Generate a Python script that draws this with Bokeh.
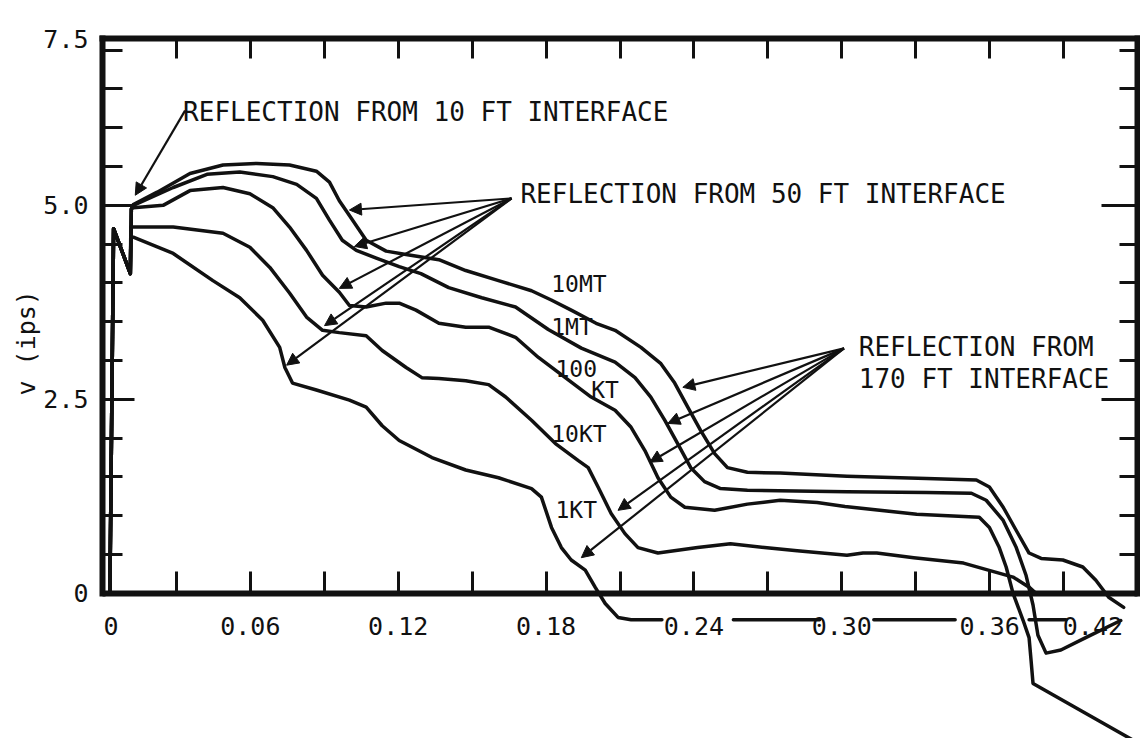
import math
from bokeh.plotting import figure
from bokeh.models import (Range1d, LinearAxis, FixedTicker, Label, Arrow,
                          NormalHead, ColumnDataSource, Title)
from bokeh.core.properties import value
from bokeh.embed import file_html
from bokeh.resources import INLINE

NaN = float("nan")
FONT = "DejaVu Sans Mono"

# ---------------- data: (time, v in ips) ----------------
MT10 = [(0.003, 0.0), (0.0045, 4.70), (0.0113, 4.12), (0.0117, 4.95), (0.0125, 5.01),
        (0.0222, 5.17), (0.0355, 5.41), (0.0489, 5.52), (0.0626, 5.54), (0.0759, 5.52),
        (0.0868, 5.44), (0.0921, 5.30), (0.0961, 5.06), (0.1002, 4.87), (0.1070, 4.55),
        (0.1151, 4.41), (0.1244, 4.36), (0.1365, 4.30), (0.1474, 4.16), (0.1607, 4.03),
        (0.1741, 3.90), (0.1821, 3.78), (0.1902, 3.65), (0.2003, 3.48), (0.2080, 3.39),
        (0.2185, 3.17), (0.2266, 2.96), (0.2322, 2.71), (0.2375, 2.40), (0.2427, 2.10),
        (0.2484, 1.80), (0.2536, 1.62), (0.2617, 1.56), (0.2750, 1.55), (0.3021, 1.51),
        (0.3344, 1.48), (0.3546, 1.46), (0.3599, 1.37), (0.3655, 1.11), (0.3708, 0.81),
        (0.3760, 0.52), (0.3809, 0.45), (0.3897, 0.43), (0.3978, 0.34), (0.4031, 0.17),
        (0.4083, -0.05), (0.4144, -0.18)]

MT1 = [(0.003, 0.0), (0.0045, 4.70), (0.0113, 4.12), (0.0117, 4.95), (0.0125, 5.00),
       (0.0287, 5.23), (0.0424, 5.40), (0.0557, 5.43), (0.0691, 5.37), (0.0788, 5.27),
       (0.0868, 5.09), (0.0921, 4.81), (0.0973, 4.55), (0.1030, 4.42), (0.1111, 4.32),
       (0.1204, 4.21), (0.1292, 4.12), (0.1405, 3.94), (0.1539, 3.81), (0.1676, 3.69),
       (0.1809, 3.40), (0.1943, 3.16), (0.2080, 2.98), (0.2161, 2.78), (0.2225, 2.53),
       (0.2282, 2.23), (0.2334, 1.93), (0.2387, 1.62), (0.2443, 1.44), (0.2508, 1.35),
       (0.2617, 1.33), (0.3021, 1.31), (0.3344, 1.30), (0.3526, 1.29), (0.3586, 1.20),
       (0.3655, 0.94), (0.3708, 0.59), (0.3748, 0.23), (0.3776, -0.15), (0.3796, -0.54),
       (0.3829, -0.77), (0.3889, -0.73), (0.3990, -0.57), (0.4132, -0.35)]

KT100 = [(0.003, 0.0), (0.0045, 4.70), (0.0113, 4.12), (0.0117, 4.95), (0.0125, 4.97),
         (0.0246, 5.00), (0.0355, 5.19), (0.0489, 5.23), (0.0598, 5.15), (0.0691, 4.97),
         (0.0759, 4.72), (0.0828, 4.42), (0.0893, 4.10), (0.0961, 3.88), (0.1002, 3.71),
         (0.1070, 3.69), (0.1151, 3.74), (0.1204, 3.74), (0.1272, 3.65), (0.1365, 3.48),
         (0.1474, 3.43), (0.1567, 3.43), (0.1676, 3.30), (0.1769, 3.04), (0.1878, 2.78),
         (0.1983, 2.53), (0.2080, 2.36), (0.2145, 2.14), (0.2201, 1.84), (0.2254, 1.49),
         (0.2306, 1.24), (0.2363, 1.11), (0.2484, 1.07), (0.2617, 1.15), (0.2750, 1.20),
         (0.2900, 1.17), (0.3013, 1.12), (0.3304, 1.02), (0.3558, 0.98), (0.3599, 0.85),
         (0.3639, 0.59), (0.3667, 0.34), (0.3695, 0.0), (0.3736, -0.35), (0.3760, -0.57),
         (0.3768, -0.86), (0.3776, -1.16), (0.4220, -1.96)]

KT10 = [(0.003, 0.0), (0.0045, 4.70), (0.0113, 4.12), (0.0115, 4.72), (0.0125, 4.72),
        (0.0287, 4.72), (0.0489, 4.64), (0.0598, 4.46), (0.0679, 4.20), (0.0759, 3.87),
        (0.0828, 3.56), (0.0893, 3.39), (0.0961, 3.36), (0.1070, 3.32), (0.1135, 3.13),
        (0.1232, 2.91), (0.1296, 2.78), (0.1365, 2.77), (0.1474, 2.74), (0.1567, 2.69),
        (0.1636, 2.53), (0.1741, 2.23), (0.1838, 1.93), (0.1931, 1.71), (0.1971, 1.62),
        (0.2011, 1.37), (0.2064, 1.03), (0.2120, 0.77), (0.2173, 0.59), (0.2254, 0.52),
        (0.2415, 0.59), (0.2548, 0.64), (0.2686, 0.59), (0.2819, 0.55), (0.3021, 0.49),
        (0.3086, 0.52), (0.3142, 0.52), (0.3292, 0.46), (0.3494, 0.39), (0.3627, 0.27),
        (0.3695, 0.21), (0.3760, 0.08), (0.3788, 0.0)]

KT1 = [(0.003, 0.0), (0.0045, 4.70), (0.0113, 4.12), (0.0115, 4.59), (0.0125, 4.59),
       (0.0287, 4.38), (0.0448, 4.03), (0.0557, 3.81), (0.0650, 3.52), (0.0719, 3.17),
       (0.0740, 2.91), (0.0771, 2.71), (0.0868, 2.62), (0.1002, 2.49), (0.1070, 2.40),
       (0.1135, 2.16), (0.1204, 1.97), (0.1337, 1.75), (0.1474, 1.59), (0.1607, 1.49),
       (0.1741, 1.35), (0.1781, 1.24), (0.1822, 0.85), (0.1862, 0.59), (0.1902, 0.43),
       (0.1959, 0.30), (0.1999, 0.08), (0.2040, -0.13), (0.2092, -0.31), (0.2145, -0.34),
       (0.2270, -0.34), (NaN, NaN), (0.2560, -0.34), (0.2910, -0.34), (NaN, NaN),
       (0.3130, -0.34), (0.3460, -0.34), (NaN, NaN), (0.3760, -0.34), (0.3910, -0.34)]

SERIES = [MT10, MT1, KT100, KT10, KT1]

# curve labels (left edge, vertical centre)
curve_label_text = ["10MT", "1MT", "100", "KT", "10KT", "1KT"]
curve_label_t = [0.1821, 0.1821, 0.1838, 0.1983, 0.1821, 0.1838]
curve_label_v = [3.99, 3.43, 2.90, 2.62, 2.06, 1.07]

# annotation texts
note_text = ["REFLECTION FROM 10 FT INTERFACE", "REFLECTION FROM 50 FT INTERFACE",
             "REFLECTION FROM", "170 FT INTERFACE"]
note_t = [0.0327, 0.1696, 0.3069, 0.3069]
note_v = [6.20, 5.14, 3.17, 2.76]

# arrows: (start) -> (tip on curve)
arrow_t0 = [0.0335, 0.166, 0.166, 0.166, 0.166, 0.166,
            0.3009, 0.3009, 0.3009, 0.3009, 0.3009]
arrow_v0 = [6.22, 5.09, 5.09, 5.09, 5.09, 5.09,
            3.157, 3.157, 3.157, 3.157, 3.157]
arrow_t1 = [0.0133, 0.1002, 0.1022, 0.0961, 0.0901, 0.0747,
            0.2355, 0.2294, 0.2221, 0.2092, 0.1943]
arrow_v1 = [5.13, 4.94, 4.47, 3.93, 3.45, 2.94,
            2.655, 2.19, 1.69, 1.07, 0.46]

# axes
x_ticks = [0.06, 0.12, 0.18, 0.24, 0.30, 0.36]
x_tick_labels = ["0.06", "0.12", "0.18", "0.24", "0.30", "0.36"]
x_minor = [0.03, 0.09, 0.15, 0.21, 0.27, 0.33, 0.39]
x_first_label, x_first_label_t = "0", 0.0035      # printed just right of the axis
x_last_label, x_last_label_t = "0.42", 0.4019     # printed left of the frame corner
X_END = 0.42
Y_TOP = 7.15          # top edge of the frame (printed "7.5" in the original)
Y_BOTTOM = -1.87
y_ticks = [0.0, 2.5, 5.0, Y_TOP]
y_tick_labels = ["0", "2.5", "5.0", "7.5"]
y_minor = [0.5, 1.0, 1.5, 2.0, 3.0, 3.5, 4.0, 4.5, 5.5, 6.0, 6.5, 7.0]
y_title = "v (ips)"

INK = "#111111"

# ---------------- figure ----------------
p = figure(width=1140, height=738,
           x_range=Range1d(0, X_END), y_range=Range1d(Y_BOTTOM, Y_TOP),
           x_axis_location=None, y_axis_location=None,
           toolbar_location=None, output_backend="svg",
           min_border_left=102, min_border_right=3, min_border_top=38,
           min_border_bottom=0,
           background_fill_color="white", border_fill_color="white",
           outline_line_color=None)
p.grid.visible = False


def style_axis(ax, line=True):
    ax.axis_line_width = 6
    ax.axis_line_color = INK if line else None
    ax.axis_line_cap = "square"
    ax.major_tick_line_width = 3
    ax.minor_tick_line_width = 3
    ax.major_tick_line_color = INK
    ax.minor_tick_line_color = INK
    ax.major_tick_out = 0
    ax.minor_tick_out = 0
    ax.major_label_text_font = FONT
    ax.major_label_text_font_size = "25px"
    ax.major_label_text_color = INK


# bottom axis drawn at v = 0 (curves continue below it)
xb = LinearAxis(fixed_location=0, bounds=(0, X_END),
                ticker=FixedTicker(ticks=x_ticks, minor_ticks=x_minor),
                major_label_overrides=dict(zip(x_ticks, x_tick_labels)))
style_axis(xb)
xb.major_tick_in = 22
xb.minor_tick_in = 22
xb.major_label_standoff = 24
p.add_layout(xb, "below")

# top frame with ticks
xt = LinearAxis(bounds=(0, X_END),
                ticker=FixedTicker(ticks=[], minor_ticks=x_minor + x_ticks))
style_axis(xt)
xt.minor_tick_in = 20
xt.major_tick_in = 0
xt.major_label_standoff = 0
p.add_layout(xt, "above")

# left axis
yl = LinearAxis(bounds=(0, Y_TOP),
                ticker=FixedTicker(ticks=y_ticks, minor_ticks=y_minor),
                major_label_overrides=dict(zip(y_ticks, y_tick_labels)))
style_axis(yl)
yl.major_tick_in = 32
yl.minor_tick_in = 20
yl.major_label_standoff = 14
p.add_layout(yl, "left")

# y-axis caption, raised to sit just above the "2.5" label as in the original
p.add_layout(Title(text=y_title, align="left", offset=343, standoff=0,
                   text_font=FONT, text_font_size="25px", text_font_style="normal",
                   text_color=INK), "left")

# right frame with ticks
yr = LinearAxis(bounds=(0, Y_TOP),
                ticker=FixedTicker(ticks=[], minor_ticks=y_minor))
style_axis(yr)
yr.minor_tick_in = 18
yr.major_tick_in = 0
yr.major_label_standoff = 0
p.add_layout(yr, "right")

# the longer right-hand ticks at 2.5 and 5.0
yr2 = LinearAxis(fixed_location=X_END, bounds=(0, Y_TOP),
                 ticker=FixedTicker(ticks=[], minor_ticks=y_ticks[1:3]))
style_axis(yr2, line=False)
yr2.minor_tick_in = 36
yr2.major_tick_in = 0
p.add_layout(yr2, "right")

# curves
for s in SERIES:
    t = [a for a, _ in s]
    v = [b for _, b in s]
    p.line(t, v, line_width=3.5, line_color=INK, line_join="round", line_cap="round")

# arrows
arr_src = ColumnDataSource(dict(t0=arrow_t0, v0=arrow_v0, t1=arrow_t1, v1=arrow_v1))
p.add_layout(Arrow(source=arr_src, x_start="t0", y_start="v0", x_end="t1", y_end="v1",
                   line_width=2.2, line_color=INK,
                   end=NormalHead(size=12, fill_color=INK, line_color=INK, line_width=1)))

# texts
note_src = ColumnDataSource(dict(t=note_t, v=note_v, text=note_text))
p.text(x="t", y="v", text="text", source=note_src, text_font=value(FONT),
       text_font_size="26px", text_align="left", text_baseline="middle",
       text_color=INK)

lab_src = ColumnDataSource(dict(t=curve_label_t, v=curve_label_v, text=curve_label_text))
p.text(x="t", y="v", text="text", source=lab_src, text_font=value(FONT),
       text_font_size="23px", text_align="left", text_baseline="middle",
       text_color=INK)

for txt, tpos in [(x_first_label, x_first_label_t), (x_last_label, x_last_label_t)]:
    p.add_layout(Label(x=tpos, y=0, text=txt, y_offset=-24,
                       text_align="center", text_baseline="top", text_font=FONT,
                       text_font_size="25px", text_color=INK))

open("out.html", "w").write(file_html(p, INLINE))
